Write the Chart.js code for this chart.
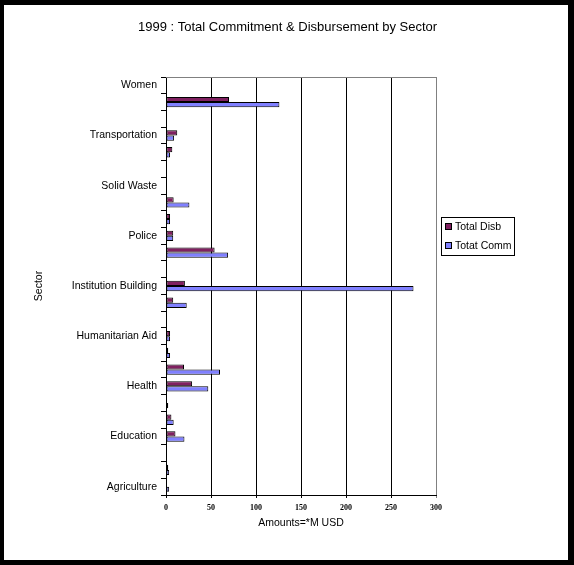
<!DOCTYPE html>
<html>
<head>
<meta charset="utf-8">
<script src="https://cdn.jsdelivr.net/npm/chart.js@4.4.0/dist/chart.umd.min.js"></script>
<style>
  html, body { margin: 0; padding: 0; background: #000; width: 574px; height: 565px; overflow: hidden; }
  #wrap { position: absolute; left: 4px; top: 5px; width: 564px; height: 555px; background: #fff; }
  canvas { display: block; }
</style>
</head>
<body>
<div id="wrap"><canvas id="c" width="564" height="555"></canvas></div>
<script>
// Categories, top to bottom (only every third sector label is shown in the original)
const sectors = ['Women','','','Transportation','','','Solid Waste','','','Police','','',
  'Institution Building','','','Humanitarian Aid','','','Health','','','Education','','','Agriculture'];
const totalDisb = [0,70,0,12.5,7,0,0,8.5,4.5,8,54,0,21,8,0,4.5,2.5,20,29,0,6,10.5,0,2.5,0];
const totalComm = [0,126,0,9,4.5,0,0,26,4.5,8,69,0,275,23,0,4.5,4.5,60,47,2.5,8.5,20.5,0,3.5,3.5];
const seriesNames = ['Total Disb', 'Totat Comm'];
const chartTitle = '1999 : Total Commitment & Disbursement by Sector';
const xMin = 0, xMax = 300, xStep = 50;

const FONT = 'Liberation Sans, Arial, sans-serif';

const framePlugin = {
  id: 'frame',
  beforeDatasetsDraw(chart) {
    const {ctx, chartArea: a} = chart;
    ctx.save();
    ctx.strokeStyle = '#808080';
    ctx.lineWidth = 1;
    ctx.beginPath();
    ctx.moveTo(a.left, Math.round(a.top) + 0.5);
    ctx.lineTo(a.right + 1, Math.round(a.top) + 0.5);
    ctx.stroke();
    ctx.restore();
  }
};

const titlePlugin = {
  id: 'centerTitle',
  afterDraw(chart) {
    const ctx = chart.ctx;
    ctx.save();
    ctx.fillStyle = '#000';
    ctx.font = '13px ' + FONT;
    ctx.textAlign = 'center';
    ctx.textBaseline = 'middle';
    ctx.fillText(chartTitle, 283.5, 22);
    ctx.restore();
  }
};

const legendPlugin = {
  id: 'boxLegend',
  afterDraw(chart) {
    const ctx = chart.ctx;
    ctx.save();
    ctx.fillStyle = '#fff';
    ctx.fillRect(437.5, 212.5, 73, 38);
    ctx.strokeStyle = '#000';
    ctx.lineWidth = 1;
    ctx.strokeRect(437.5, 212.5, 73, 38);
    const rows = [222, 241];
    chart.data.datasets.forEach((ds, i) => {
      const cy = rows[i];
      ctx.fillStyle = ds.backgroundColor;
      ctx.fillRect(441.5, cy - 3.5, 6, 6);
      ctx.strokeStyle = '#000';
      ctx.strokeRect(441.5, cy - 3.5, 6, 6);
      ctx.fillStyle = '#000';
      ctx.font = '10.5px ' + FONT;
      ctx.textBaseline = 'middle';
      ctx.textAlign = 'left';
      ctx.fillText(ds.label, 451, cy);
    });
    ctx.restore();
  }
};

new Chart(document.getElementById('c'), {
  type: 'bar',
  data: {
    labels: sectors,
    datasets: [
      { label: seriesNames[0], data: totalDisb, backgroundColor: '#802060', borderColor: '#000', borderWidth: 1, borderSkipped: false },
      { label: seriesNames[1], data: totalComm, backgroundColor: '#8080FF', borderColor: '#000', borderWidth: 1, borderSkipped: false }
    ]
  },
  options: {
    indexAxis: 'y',
    responsive: false,
    animation: false,
    devicePixelRatio: 1,
    categoryPercentage: 0.62,
    barPercentage: 1,
    layout: { padding: { left: 0, right: 132, top: 72, bottom: 20 } },
    plugins: {
      legend: { display: false },
      tooltip: { enabled: false },
      title: { display: false }
    },
    scales: {
      x: {
        min: xMin, max: xMax,
        ticks: { stepSize: xStep, color: '#000', padding: 5,
          font: { family: 'Liberation Serif, serif', size: 8, weight: 'bold' } },
        grid: { color: c => (c.tick && c.tick.value === xMax) ? '#808080' : '#000', tickLength: 3, lineWidth: 1 },
        border: { color: '#000', width: 1 },
        title: { display: true, text: 'Amounts=*M USD', color: '#000',
          font: { family: FONT, size: 10.5 }, padding: { top: 0, bottom: 10.4 } },
        afterFit: s => { s.height = 45; }
      },
      y: {
        ticks: { autoSkip: false, color: '#000', padding: 4, font: { family: FONT, size: 10.5 } },
        grid: { drawOnChartArea: false, tickLength: 5, color: '#000', offset: true },
        border: { color: '#000', width: 1 },
        title: { display: true, text: 'Sector', color: '#000',
          font: { family: FONT, size: 10.5 }, padding: { top: 28.7, bottom: 0 } },
        afterFit: s => { s.width = 162; }
      }
    }
  },
  plugins: [framePlugin, titlePlugin, legendPlugin]
});
</script>
</body>
</html>
